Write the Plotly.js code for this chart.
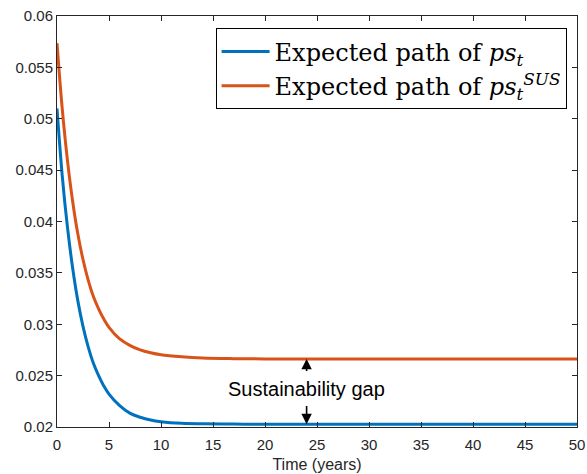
<!DOCTYPE html>
<html>
<head>
<meta charset="utf-8">
<script src="https://cdn.plot.ly/plotly-3.0.1.min.js"></script>
<style>html,body{margin:0;padding:0;background:#fff;}#chart{width:587px;height:474px;}</style>
</head>
<body>
<div id="chart"></div>
<script>
// Time (years)
const timeYears = [0, 0.5, 1, 1.5, 2, 2.5, 3, 3.5, 4, 4.5, 5, 6, 7, 8, 9, 10, 12, 14, 17, 20, 25, 30, 35, 40, 45, 50];
// Expected path of ps_t
const psExpected = [0.0510, 0.0445, 0.0395, 0.0355, 0.0323, 0.0298, 0.0278, 0.0262, 0.0250, 0.0240, 0.0232, 0.0221, 0.02135, 0.02095, 0.02068, 0.02052, 0.02036, 0.02031, 0.02028, 0.02027, 0.02027, 0.02027, 0.02027, 0.02027, 0.02027, 0.02027];
// Expected path of ps_t^SUS
const psSusExpected = [0.05735, 0.0510, 0.0460, 0.0420, 0.0388, 0.0363, 0.0343, 0.0327, 0.0315, 0.0305, 0.0297, 0.0286, 0.02795, 0.0275, 0.02722, 0.02703, 0.02683, 0.02671, 0.02665, 0.02663, 0.02663, 0.02663, 0.02663, 0.02663, 0.02663, 0.02663];
const xTickVals = [0, 5, 10, 15, 20, 25, 30, 35, 40, 45, 50];
const yTickVals = [0.02, 0.025, 0.03, 0.035, 0.04, 0.045, 0.05, 0.055, 0.06];
const yTickText = ['0.02', '0.025', '0.03', '0.035', '0.04', '0.045', '0.05', '0.055', '0.06'];
const gapX = 24;
const gapLabel = 'Sustainability gap';

const traces = [
  {x: timeYears, y: psExpected, type: 'scatter', mode: 'lines',
   line: {color: '#0072BD', width: 3, shape: 'spline', smoothing: 1},
   name: 'Expected path of <i>ps</i><sub><i>t</i></sub>'},
  {x: timeYears, y: psSusExpected, type: 'scatter', mode: 'lines',
   line: {color: '#D95319', width: 3, shape: 'spline', smoothing: 1},
   name: 'Expected path of <i>ps</i><sub><i>t</i></sub><sup><i>SUS</i></sup>'}
];

const axisCommon = {
  showline: true, linecolor: '#262626', linewidth: 1, mirror: 'ticks',
  ticks: 'inside', ticklen: 5, tickcolor: '#262626', tickwidth: 1,
  showgrid: false, zeroline: false,
  tickfont: {family: 'Liberation Sans, Arial, sans-serif', size: 15, color: '#262626'}
};

const steadyBlue = psExpected[psExpected.length - 1];
const steadyOrange = psSusExpected[psSusExpected.length - 1];

const layout = {
  width: 587, height: 474,
  margin: {l: 57, r: 10, t: 16, b: 47},
  paper_bgcolor: '#fff', plot_bgcolor: '#fff',
  showlegend: true,
  legend: {x: 0.98, y: 0.97, xanchor: 'right', yanchor: 'top',
    bgcolor: '#fff', bordercolor: '#000', borderwidth: 1,
    font: {family: 'DejaVu Serif, serif', size: 24, color: '#000'},
    itemwidth: 48, tracegroupgap: 0},
  xaxis: Object.assign({}, axisCommon, {range: [0, 50], tickvals: xTickVals, ticklabelstandoff: 4,
    title: {text: 'Time (years)', font: {family: 'Liberation Sans, Arial, sans-serif', size: 16, color: '#262626'}, standoff: 6}}),
  yaxis: Object.assign({}, axisCommon, {range: [0.02, 0.06], tickvals: yTickVals, ticktext: yTickText}),
  annotations: [
    {x: gapX, y: 0.02367, xref: 'x', yref: 'y', text: gapLabel, showarrow: false,
     font: {family: 'Liberation Sans, Arial, sans-serif', size: 20, color: '#000'}},
    {x: gapX, y: steadyOrange, ax: gapX, ay: 0.0253, xref: 'x', yref: 'y', axref: 'x', ayref: 'y',
     text: '', showarrow: true, arrowhead: 2, arrowsize: 1.3, arrowwidth: 1.6, arrowcolor: '#000'},
    {x: gapX, y: steadyBlue, ax: gapX, ay: 0.0222, xref: 'x', yref: 'y', axref: 'x', ayref: 'y',
     text: '', showarrow: true, arrowhead: 2, arrowsize: 1.3, arrowwidth: 1.6, arrowcolor: '#000'}
  ]
};

Plotly.newPlot('chart', traces, layout, {displayModeBar: false, staticPlot: true});
</script>
</body>
</html>
